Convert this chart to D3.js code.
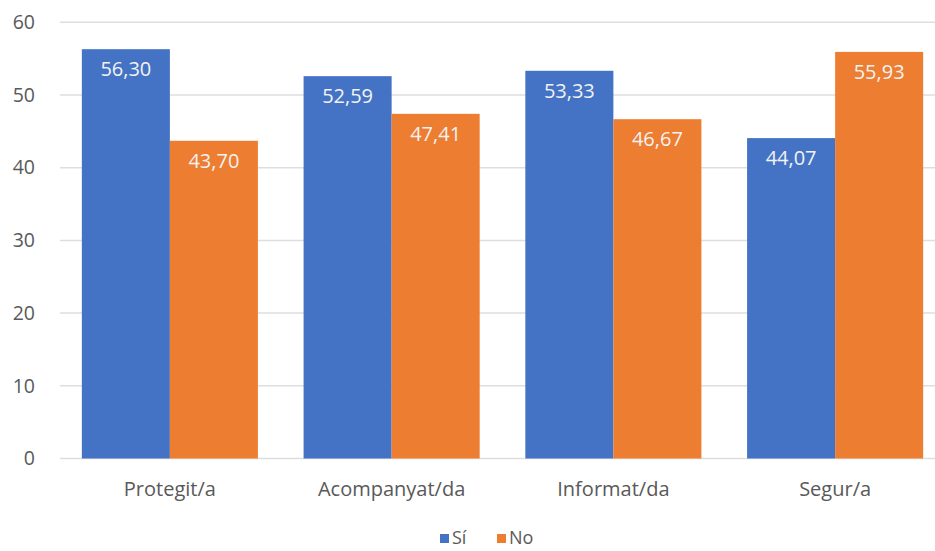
<!DOCTYPE html>
<html><head><meta charset="utf-8">
<script src="https://cdn.jsdelivr.net/npm/d3@7"></script>
<style>body{margin:0;background:#fff}text{font-family:"Open Sans",sans-serif}</style>
</head><body><svg id="c" width="935" height="551"></svg>
<script>
const categories = ["Protegit/a","Acompanyat/da","Informat/da","Segur/a"];
const seriesNames = ["Sí","No"];
const siValues = [56.30,52.59,53.33,44.07];
const noValues = [43.70,47.41,46.67,55.93];
const yTicks = [0,10,20,30,40,50,60];
const colors = ["#4472C4","#ED7D31"];

const svg = d3.select("#c");
const x = d3.scaleBand().domain(categories).range([59,946]).paddingInner(0.206).paddingOuter(0.103);
const xs = d3.scaleBand().domain(seriesNames).range([0,x.bandwidth()]);
const y = d3.scaleLinear().domain([0,60]).range([458.5,22.3]);

svg.append("g").selectAll("line").data(yTicks).join("line")
  .attr("x1",60).attr("x2",935).attr("y1",d=>y(d)).attr("y2",d=>y(d))
  .attr("stroke","#dedede").attr("stroke-width",1.5);

const yAxis = d3.axisLeft(y).tickValues(yTicks).tickSize(0).tickPadding(0).tickFormat(d3.format("d"));
const ga = svg.append("g").attr("transform","translate(35,0)").call(yAxis);
ga.select(".domain").remove();
ga.selectAll("text").attr("font-size",19.5).attr("fill","#595959").attr("font-family","'Open Sans',sans-serif");

const data = categories.map((c,i)=>({c, vals:[{s:"Sí",v:siValues[i]},{s:"No",v:noValues[i]}]}));
const g = svg.append("g").selectAll("g").data(data).join("g").attr("transform",d=>`translate(${x(d.c)},0)`);
g.selectAll("rect").data(d=>d.vals).join("rect")
  .attr("x",d=>xs(d.s)).attr("width",xs.bandwidth())
  .attr("y",d=>y(d.v)).attr("height",d=>y(0)-y(d.v))
  .attr("fill",(d,i)=>colors[i]);
g.selectAll("text.lbl").data(d=>d.vals).join("text").attr("class","lbl")
  .attr("x",d=>xs(d.s)+xs.bandwidth()/2).attr("y",d=>y(d.v)+27)
  .attr("text-anchor","middle").attr("font-size",20).attr("fill","#f2f2f2")
  .text(d=>d.v.toFixed(2).replace(".",","));

const xAxis = d3.axisBottom(x).tickSize(0).tickPadding(0);
const gx = svg.append("g").attr("transform","translate(0,496)").call(xAxis);
gx.select(".domain").remove();
gx.selectAll("text").attr("font-size",20).attr("fill","#595959").attr("dy",0).attr("font-family","'Open Sans',sans-serif");

const leg = svg.append("g").attr("transform","translate(440,544)");
const items = [{n:"Sí",x:0},{n:"No",x:57}];
items.forEach((it,i)=>{
  leg.append("rect").attr("x",it.x).attr("y",-10).attr("width",9).attr("height",9).attr("fill",colors[i]);
  leg.append("text").attr("x",it.x+12).attr("y",0).attr("font-size",18).attr("fill","#595959").text(it.n);
});
</script></body></html>
